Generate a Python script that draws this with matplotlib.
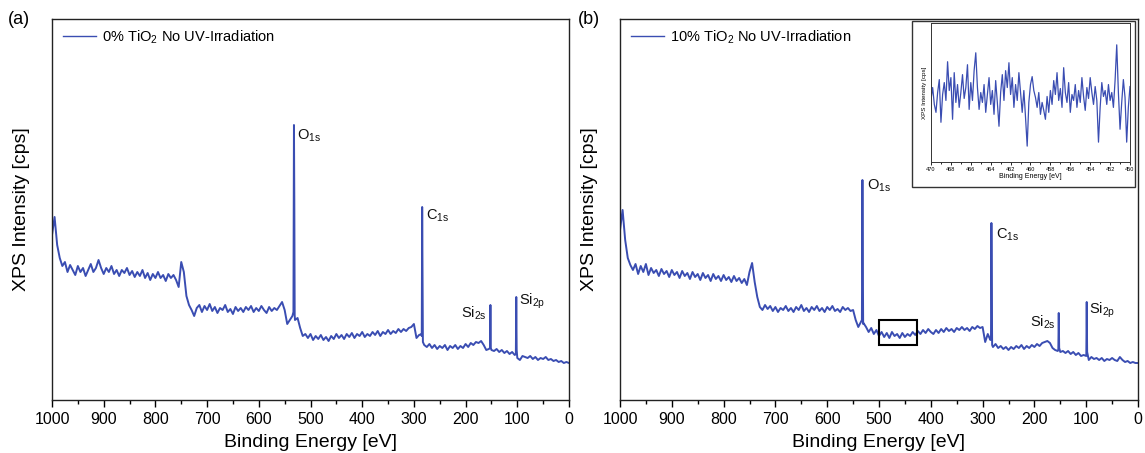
import numpy as np
import matplotlib
matplotlib.use("Agg")
import matplotlib.pyplot as plt
from matplotlib.patches import Rectangle
from matplotlib.ticker import MultipleLocator

plt.rcParams['font.family'] = ['Liberation Sans', 'DejaVu Sans']
plt.rcParams['mathtext.default'] = 'regular'

# ---------------- data ----------------
grid_energy = np.arange(1000, -1, -5)  # 1000 ... 0 eV (5 eV steps)

base_a = [
    165, 183, 155, 142, 134, 138, 128, 135, 130, 125,   # 1000-955
    134, 128, 132, 124, 130, 136, 128, 132, 140, 132,   # 950-905
    126, 132, 128, 134, 126, 130, 124, 130, 127, 132,   # 900-855
    125, 129, 123, 128, 124, 130, 122, 127, 120, 126,   # 850-805
    122, 128, 122, 125, 119, 126, 122, 125, 120, 113,   # 800-755
    138, 128, 104, 95, 90, 84, 92, 95, 88, 94,          # 750-705
    90, 96, 89, 93, 87, 92, 90, 95, 88, 91,             # 700-655
    86, 93, 89, 92, 88, 93, 90, 94, 88, 92,             # 650-605
    89, 94, 90, 87, 93, 89, 92, 90, 94, 98,             # 600-555
    90, 76, 80, 84, 80, 82, 72, 64, 66, 62,             # 550-505
    66, 60, 64, 61, 65, 60, 63, 59, 64, 61,             # 500-455
    66, 62, 65, 61, 66, 63, 67, 62, 66, 64,             # 450-405
    68, 63, 66, 64, 68, 65, 69, 64, 68, 66,             # 400-355
    70, 66, 69, 67, 71, 68, 71, 69, 72, 73,             # 350-305
    76, 62, 65, 66, 55, 53, 56, 52, 55, 51,             # 300-255
    54, 52, 55, 50, 54, 52, 55, 51, 54, 52,             # 250-205
    56, 53, 57, 55, 58, 57, 59, 55, 50, 51,             # 200-155
    50, 49, 51, 48, 50, 47, 49, 46, 48, 45,             # 150-105
    42, 40, 44, 43, 42, 44, 41, 43, 40, 42,             # 100-55
    41, 43, 40, 41, 39, 40, 38, 39, 37, 38,             # 50-5
    37,                                                 # 0
]
peak_energy_a = [533, 532, 531.3, 530.6, 284.8, 284, 283.3, 282.6,
                 152.8, 152, 151.2, 102.8, 102, 101.2]
peak_int_a = [88, 275, 200, 85, 64, 193, 120, 58,
              52, 95, 52, 46, 103, 50]

base_b = [
    170, 190, 160, 142, 135, 130, 136, 126, 134, 128,   # 1000-955
    136, 125, 132, 127, 130, 124, 131, 126, 129, 123,   # 950-905
    130, 125, 128, 122, 129, 124, 127, 121, 128, 123,   # 900-855
    126, 120, 127, 122, 125, 119, 126, 121, 124, 119,   # 850-805
    125, 120, 123, 118, 124, 119, 122, 117, 121, 115,   # 800-755
    128, 137, 118, 103, 93, 90, 95, 91, 94, 89,         # 750-705
    93, 88, 92, 90, 94, 89, 92, 88, 93, 90,             # 700-655
    95, 89, 92, 88, 93, 90, 94, 89, 92, 88,             # 650-605
    93, 90, 94, 89, 91, 88, 93, 90, 92, 89,             # 600-555
    90, 80, 73, 78, 77, 73, 68, 72, 66, 70,             # 550-505
    64, 68, 63, 67, 62, 68, 64, 66, 62, 67,             # 500-455
    63, 66, 64, 68, 65, 69, 66, 70, 67, 71,             # 450-405
    68, 66, 70, 67, 71, 68, 72, 69, 71, 68,             # 400-355
    72, 70, 73, 70, 72, 69, 73, 71, 74, 72,             # 350-305
    73, 58, 66, 60, 53, 56, 52, 54, 51, 53,             # 300-255
    50, 53, 51, 54, 52, 55, 51, 54, 52, 55,             # 250-205
    53, 56, 54, 57, 58, 59, 57, 52, 50, 49,             # 200-155
    48, 49, 47, 49, 46, 48, 45, 47, 44, 45,             # 150-105
    44, 40, 43, 41, 42, 40, 42, 39, 41, 40,             # 100-55
    42, 40, 39, 43, 40, 38, 39, 37, 38, 37,             # 50-5
    37,                                                 # 0
]
peak_energy_b = [533, 532, 531.3, 530.6, 283.8, 283, 282.3, 281.6,
                 153.8, 153, 152.2, 99.8, 99, 98.2]
peak_int_b = [80, 220, 150, 76, 62, 177, 115, 55,
              50, 87, 52, 44, 98, 48]

inset_energy = np.linspace(470, 450, 121)
inset_int = [
    63, 75, 58, 50, 70, 83, 40, 68, 80, 62, 101, 72, 85, 43, 90, 60, 78, 55, 70, 88,
    64, 75, 98, 53, 80, 62, 92, 110, 75, 53, 70, 60, 78, 50, 68, 85, 58, 72, 48, 82,
    60, 36, 70, 88, 62, 92, 75, 100, 68, 85, 55, 78, 62, 90, 70, 50, 72, 45, 16, 60,
    78, 86, 72, 65, 55, 70, 48, 60, 52, 43, 66, 50, 72, 58, 82, 68, 90, 62, 74, 55,
    95, 70, 60, 80, 50, 68, 62, 78, 55, 72, 60, 85, 66, 52, 75, 64, 85, 70, 58, 76,
    62, 20, 55, 80, 66, 72, 58, 78, 62, 70, 55, 82, 118, 70, 33, 60, 83, 65, 20, 55,
    76,
]

labels_a = ["O$_{1s}$", "C$_{1s}$", "Si$_{2s}$", "Si$_{2p}$"]
label_pos_a = [(527, 260, 'left'), (277, 180, 'left'), (159, 82, 'right'), (97, 95, 'left')]
labels_b = ["O$_{1s}$", "C$_{1s}$", "Si$_{2s}$", "Si$_{2p}$"]
label_pos_b = [(523, 210, 'left'), (274, 161, 'left'), (158, 73, 'right'), (95, 86, 'left')]

legend_a = "0% TiO$_2$ No UV-Irradiation"
legend_b = "10% TiO$_2$ No UV-Irradiation"

box_e = (500, 427)
box_i = (55, 80)

LINE = '#3a4db2'


def merged(base, pe, pi):
    e = np.concatenate([grid_energy, np.array(pe, float)])
    v = np.concatenate([np.array(base, float), np.array(pi, float)])
    order = np.argsort(-e)
    return e[order], v[order]


fig = plt.figure(figsize=(11.45, 4.53), dpi=100)
W, H = 1145, 453


def ax_px(x0, x1, y0, y1):
    return fig.add_axes([x0 / W, 1 - y1 / H, (x1 - x0) / W, (y1 - y0) / H])


def style_main(ax):
    ax.set_xlim(1000, 0)
    ax.set_ylim(0, 381)
    ax.xaxis.set_major_locator(MultipleLocator(100))
    ax.xaxis.set_minor_locator(MultipleLocator(50))
    ax.set_yticks([])
    ax.tick_params(axis='x', which='major', direction='out', length=5, width=1, labelsize=11.5, pad=4)
    ax.tick_params(axis='x', which='minor', direction='out', length=3, width=1)
    for s in ax.spines.values():
        s.set_linewidth(1.0)
        s.set_color('#222222')
    ax.set_xlabel("Binding Energy [eV]", fontsize=14, labelpad=5)
    ax.set_ylabel("XPS Intensity [cps]", fontsize=14, labelpad=16)


axa = ax_px(52, 569, 19, 400)
axb = ax_px(620, 1138, 19, 400)

ea, va = merged(base_a, peak_energy_a, peak_int_a)
eb, vb = merged(base_b, peak_energy_b, peak_int_b)
axa.plot(ea, va, color=LINE, lw=1.4, label=legend_a)
axb.plot(eb, vb, color=LINE, lw=1.4, label=legend_b)

for ax, labs, pos in [(axa, labels_a, label_pos_a), (axb, labels_b, label_pos_b)]:
    style_main(ax)
    for t, (x, y, ha) in zip(labs, pos):
        ax.text(x, y, t, fontsize=10.5, ha=ha, va='baseline', color='#111111')
    leg = ax.legend(loc='upper left', bbox_to_anchor=(0.021, 0.975), frameon=False,
                    fontsize=10.5, handlelength=2.3, handletextpad=0.4,
                    borderpad=0, borderaxespad=0)
    for ln in leg.get_lines():
        ln.set_linewidth(1.0)

axb.add_patch(Rectangle((box_e[1], box_i[0]), box_e[0] - box_e[1], box_i[1] - box_i[0],
                        fill=False, edgecolor='black', lw=1.5, zorder=5))

fig.text(8 / W, 1 - 20 / H, "(a)", fontsize=13, va='center', ha='left')
fig.text(578 / W, 1 - 20 / H, "(b)", fontsize=13, va='center', ha='left')

# inset frame
frame = Rectangle((912 / W, 1 - 187 / H), (1135 - 912) / W, (187 - 21) / H,
                  transform=fig.transFigure, fill=True, facecolor='white',
                  edgecolor='#333333', lw=1.0, zorder=3)
fig.patches.append(frame)

axi = ax_px(931, 1130, 23, 162)
axi.set_zorder(4)
axi.plot(inset_energy, inset_int, color=LINE, lw=0.9)
axi.set_xlim(470, 450)
axi.set_ylim(0, 140)
axi.xaxis.set_major_locator(MultipleLocator(2))
axi.xaxis.set_minor_locator(MultipleLocator(1))
axi.set_yticks([])
axi.tick_params(axis='x', which='major', length=2.5, width=0.6, labelsize=4, pad=1)
axi.tick_params(axis='x', which='minor', length=1.5, width=0.6)
for s in axi.spines.values():
    s.set_linewidth(0.7)
    s.set_color('#333333')
axi.set_xlabel("Binding Energy [eV]", fontsize=5, labelpad=1)
axi.set_ylabel("XPS Intensity [cps]", fontsize=4.5, labelpad=3)

fig.savefig("out.png", dpi=100)
